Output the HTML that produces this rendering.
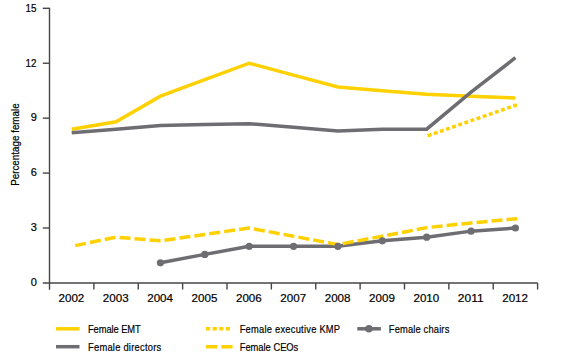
<!DOCTYPE html><html><head><meta charset="utf-8"><style>html,body{margin:0;padding:0;background:#fff;width:565px;height:358px;overflow:hidden}svg{display:block}text{font-family:"Liberation Sans",sans-serif;fill:#000;stroke:#000;stroke-width:0.2}</style></head><body>
<svg width="565" height="358" viewBox="0 0 565 358">
<g stroke="#464646" stroke-width="1.4" fill="none">
<line x1="49.50" y1="7.8" x2="49.50" y2="289.8"/>
<line x1="42.8" y1="282.95" x2="537.60" y2="282.95"/>
<line x1="42.8" y1="228.02" x2="49.50" y2="228.02"/>
<line x1="42.8" y1="173.09" x2="49.50" y2="173.09"/>
<line x1="42.8" y1="118.16" x2="49.50" y2="118.16"/>
<line x1="42.8" y1="63.23" x2="49.50" y2="63.23"/>
<line x1="42.8" y1="8.30" x2="49.50" y2="8.30"/>
<line x1="93.87" y1="282.95" x2="93.87" y2="289.5"/>
<line x1="138.25" y1="282.95" x2="138.25" y2="289.5"/>
<line x1="182.62" y1="282.95" x2="182.62" y2="289.5"/>
<line x1="226.99" y1="282.95" x2="226.99" y2="289.5"/>
<line x1="271.36" y1="282.95" x2="271.36" y2="289.5"/>
<line x1="315.74" y1="282.95" x2="315.74" y2="289.5"/>
<line x1="360.11" y1="282.95" x2="360.11" y2="289.5"/>
<line x1="404.48" y1="282.95" x2="404.48" y2="289.5"/>
<line x1="448.85" y1="282.95" x2="448.85" y2="289.5"/>
<line x1="493.23" y1="282.95" x2="493.23" y2="289.5"/>
<line x1="537.60" y1="282.95" x2="537.60" y2="289.5"/>
</g>
<text x="36.9" y="285.90" font-size="11" text-anchor="end">0</text>
<text x="36.9" y="230.97" font-size="11" text-anchor="end">3</text>
<text x="36.9" y="176.04" font-size="11" text-anchor="end">6</text>
<text x="36.9" y="121.11" font-size="11" text-anchor="end">9</text>
<text x="36.6" y="67.03" font-size="11" text-anchor="end" textLength="11" lengthAdjust="spacingAndGlyphs">12</text>
<text x="36.6" y="12.10" font-size="11" text-anchor="end" textLength="11" lengthAdjust="spacingAndGlyphs">15</text>
<text x="71.39" y="302" font-size="11" text-anchor="middle" textLength="25.8" lengthAdjust="spacingAndGlyphs">2002</text>
<text x="115.76" y="302" font-size="11" text-anchor="middle" textLength="25.8" lengthAdjust="spacingAndGlyphs">2003</text>
<text x="160.13" y="302" font-size="11" text-anchor="middle" textLength="25.8" lengthAdjust="spacingAndGlyphs">2004</text>
<text x="204.50" y="302" font-size="11" text-anchor="middle" textLength="25.8" lengthAdjust="spacingAndGlyphs">2005</text>
<text x="248.88" y="302" font-size="11" text-anchor="middle" textLength="25.8" lengthAdjust="spacingAndGlyphs">2006</text>
<text x="293.25" y="302" font-size="11" text-anchor="middle" textLength="25.8" lengthAdjust="spacingAndGlyphs">2007</text>
<text x="337.62" y="302" font-size="11" text-anchor="middle" textLength="25.8" lengthAdjust="spacingAndGlyphs">2008</text>
<text x="382.00" y="302" font-size="11" text-anchor="middle" textLength="25.8" lengthAdjust="spacingAndGlyphs">2009</text>
<text x="426.37" y="302" font-size="11" text-anchor="middle" textLength="25.8" lengthAdjust="spacingAndGlyphs">2010</text>
<text x="470.74" y="302" font-size="11" text-anchor="middle" textLength="25.8" lengthAdjust="spacingAndGlyphs">2011</text>
<text x="515.11" y="302" font-size="11" text-anchor="middle" textLength="25.8" lengthAdjust="spacingAndGlyphs">2012</text>
<text transform="translate(18.7,144.6) rotate(-90)" font-size="10.5" text-anchor="middle" textLength="82.5" lengthAdjust="spacingAndGlyphs">Percentage female</text>
<g fill="none" stroke-width="3.50" stroke-linejoin="miter">
<polyline stroke="#ffd100" points="71.69,129.15 116.06,121.82 160.43,96.19 204.80,79.71 249.18,63.23 293.55,75.13 337.92,87.03 382.30,90.69 426.67,94.36 471.04,96.19 515.41,98.02"/>
<polyline stroke="#ffd100" stroke-dasharray="0.4 6.07" stroke-dashoffset="3.61" stroke-linecap="square" points="426.67,136.10 471.04,120.72 515.41,105.34"/>
<polyline stroke="#6e6d72" points="71.69,132.81 116.06,129.15 160.43,125.48 204.80,124.57 249.18,123.65 293.55,127.31 337.92,130.98 382.30,129.15 426.67,129.15 471.04,92.16 515.41,57.74"/>
<polyline stroke="#6e6d72" points="160.43,262.81 204.80,254.39 249.18,246.33 293.55,246.33 337.92,246.33 382.30,240.84 426.67,237.17 471.04,231.13 515.41,228.02"/>
<polyline stroke="#ffd100" stroke-dasharray="11.03 4.03" stroke-dashoffset="11.46" points="71.69,246.33 116.06,237.17 160.43,240.84 204.80,234.43 249.18,228.02 293.55,236.26 337.92,244.50 382.30,236.26 426.67,227.65 471.04,222.89 517.41,218.68"/>
</g>
<g fill="#6e6d72">
<circle cx="160.43" cy="262.81" r="3.6"/>
<circle cx="204.80" cy="254.39" r="3.6"/>
<circle cx="249.18" cy="246.33" r="3.6"/>
<circle cx="293.55" cy="246.33" r="3.6"/>
<circle cx="337.92" cy="246.33" r="3.6"/>
<circle cx="382.30" cy="240.84" r="3.6"/>
<circle cx="426.67" cy="237.17" r="3.6"/>
<circle cx="471.04" cy="231.13" r="3.6"/>
<circle cx="515.41" cy="228.02" r="3.6"/>
</g>
<g fill="none" stroke-width="3.50">
<line x1="56" y1="328.8" x2="79.5" y2="328.8" stroke="#ffd100"/>
<line x1="56" y1="346.7" x2="79.5" y2="346.7" stroke="#6e6d72"/>
<line x1="206" y1="328.8" x2="230" y2="328.8" stroke="#ffd100" stroke-dasharray="4.2 2.4"/>
<line x1="206" y1="346.7" x2="232.6" y2="346.7" stroke="#ffd100" stroke-dasharray="11.3 4"/>
<line x1="357.3" y1="328.8" x2="380.9" y2="328.8" stroke="#6e6d72"/>
</g>
<circle cx="368.9" cy="328.8" r="3.8" fill="#6e6d72"/>
<text transform="translate(88.00,333.00) scale(0.850,1)" x="0" y="0" font-size="11" textLength="62.00" lengthAdjust="spacing">Female EMT</text>
<text transform="translate(88.00,350.80) scale(0.850,1)" x="0" y="0" font-size="11" textLength="86.12" lengthAdjust="spacing">Female directors</text>
<text transform="translate(239.70,333.00) scale(0.850,1)" x="0" y="0" font-size="11" textLength="118.12" lengthAdjust="spacing">Female executive KMP</text>
<text transform="translate(239.70,350.80) scale(0.850,1)" x="0" y="0" font-size="11" textLength="68.94" lengthAdjust="spacing">Female CEOs</text>
<text transform="translate(388.80,333.00) scale(0.850,1)" x="0" y="0" font-size="11" textLength="71.18" lengthAdjust="spacing">Female chairs</text>
</svg></body></html>
